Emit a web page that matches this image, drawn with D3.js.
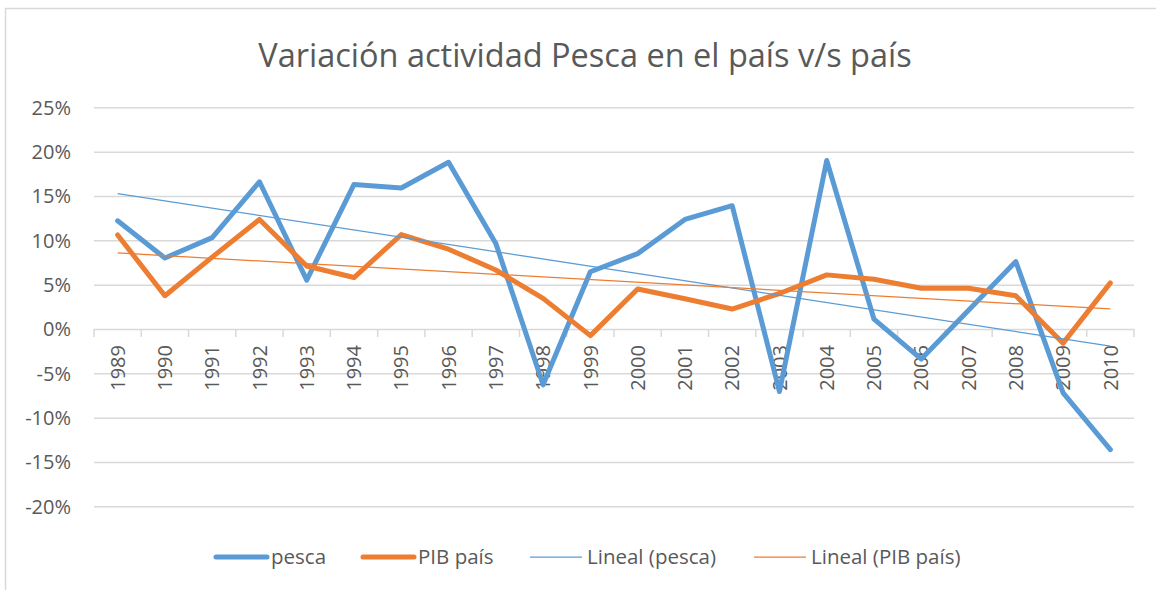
<!DOCTYPE html>
<html>
<head>
<meta charset="utf-8">
<script src="https://cdn.jsdelivr.net/npm/d3@7"></script>
<style>
  body { margin: 0; background: #fff; }
  text { font-family: "Open Sans", "Noto Sans", sans-serif; fill: #595959; }
</style>
</head>
<body>
<div id="chart"></div>
<script>

var years = ["1989", "1990", "1991", "1992", "1993", "1994", "1995", "1996", "1997", "1998", "1999",
             "2000", "2001", "2002", "2003", "2004", "2005", "2006", "2007", "2008", "2009", "2010"]

var pesca = [12.2, 8.0, 10.3, 16.6, 5.5, 16.3, 15.9, 18.8, 9.65, -6.3, 6.45,
             8.5, 12.35, 13.9, -7.06, 19.0, 1.1, -3.4, 2.1, 7.6, -7.2, -13.6]

var pibPais = [10.6, 3.75, 8.1, 12.35, 7.1, 5.8, 10.65, 9.0, 6.65, 3.45, -0.75,
               4.5, 3.4, 2.25, 4.0, 6.1, 5.6, 4.6, 4.6, 3.75, -1.6, 5.2]

var yTicks = [-20, -15, -10, -5, 0, 5, 10, 15, 20, 25]

var seriesNames = ["pesca", "PIB país", "Lineal (pesca)", "Lineal (PIB país)"]

var blue = "#5B9BD5",
    orange = "#ED7D31",
    gridColor = "#d9d9d9"

var width = 1156,
    height = 590

var svg = d3.select("#chart").append("svg")
    .attr("width", width)
    .attr("height", height)

// chart frame (only left + top edges are inside the picture)
svg.append("rect")
    .attr("x", 5.5)
    .attr("y", 8.5)
    .attr("width", 1160)
    .attr("height", 600)
    .style("fill", "#fff")
    .style("stroke", gridColor)
    .style("stroke-width", 1.5)

var x = d3.scaleBand()
    .domain(years)
    .range([94, 1134])

var y = d3.scaleLinear()
    .domain([-20, 25])
    .range([506.3, 107.3])

// title
svg.append("text")
    .attr("x", 585)
    .attr("y", 67)
    .style("text-anchor", "middle")
    .style("font-size", "32.5px")
    .text("Variación actividad Pesca en el país v/s país")

// gridlines
svg.append("g").selectAll(".grid")
    .data(yTicks)
    .enter().append("line")
      .attr("x1", x.range()[0])
      .attr("x2", x.range()[1])
      .attr("y1", function(d) { return y(d) + 0.5; })
      .attr("y2", function(d) { return y(d) + 0.5; })
      .style("stroke", gridColor)
      .style("stroke-width", 1.5)

// y labels
svg.append("g").selectAll(".yLabel")
    .data(yTicks)
    .enter().append("text")
      .attr("x", 71)
      .attr("y", function(d) { return y(d); })
      .attr("dy", "0.36em")
      .style("text-anchor", "end")
      .style("font-size", "20px")
      .text(function(d) { return d + "%"; })

// category tick marks on the 0% line
var bounds = years.map(function(d) { return x(d); }).concat([x.range()[1]])
svg.append("g").selectAll(".tick")
    .data(bounds)
    .enter().append("line")
      .attr("x1", function(d) { return d; })
      .attr("x2", function(d) { return d; })
      .attr("y1", y(0))
      .attr("y2", y(0) + 8)
      .style("stroke", gridColor)
      .style("stroke-width", 1.5)

// year labels (rotated)
svg.append("g").selectAll(".xLabel")
    .data(years)
    .enter().append("text")
      .attr("transform", function(d) {
        return "translate(" + (x(d) + x.bandwidth() / 2) + "," + 345 + ") rotate(-90)";
      })
      .attr("dy", "0.36em")
      .style("text-anchor", "end")
      .style("font-size", "20px")
      .text(function(d) { return d; })

function cx(i) { return x(years[i]) + x.bandwidth() / 2; }

var line = d3.line()
    .x(function(d, i) { return cx(i); })
    .y(function(d) { return y(d); })

// least squares trend, same as excel's "Lineal"
function trend(values) {
  var n = values.length,
      mx = d3.mean(values, function(d, i) { return i; }),
      my = d3.mean(values),
      sxy = d3.sum(values, function(d, i) { return (i - mx) * (d - my); }),
      sxx = d3.sum(values, function(d, i) { return (i - mx) * (i - mx); }),
      b = sxy / sxx,
      a = my - b * mx
  return [[0, a], [n - 1, a + b * (n - 1)]]
}

var trendLine = d3.line()
    .x(function(d) { return cx(d[0]); })
    .y(function(d) { return y(d[1]); })

svg.append("path")
    .datum(pesca)
    .attr("d", line)
    .style("fill", "none")
    .style("stroke", blue)
    .style("stroke-width", 5)
    .style("stroke-linejoin", "round")
    .style("stroke-linecap", "round")

svg.append("path")
    .datum(pibPais)
    .attr("d", line)
    .style("fill", "none")
    .style("stroke", orange)
    .style("stroke-width", 5)
    .style("stroke-linejoin", "round")
    .style("stroke-linecap", "round")

svg.append("path")
    .datum(trend(pesca))
    .attr("d", trendLine)
    .style("fill", "none")
    .style("stroke", blue)
    .style("stroke-width", 1.25)

svg.append("path")
    .datum(trend(pibPais))
    .attr("d", trendLine)
    .style("fill", "none")
    .style("stroke", orange)
    .style("stroke-width", 1.25)

// legend
var legendItems = [
  { name: seriesNames[0], color: blue, w: 5, x: 214 },
  { name: seriesNames[1], color: orange, w: 5, x: 361 },
  { name: seriesNames[2], color: blue, w: 1.25, x: 530 },
  { name: seriesNames[3], color: orange, w: 1.25, x: 754 }
]

var legend = svg.append("g").selectAll(".legend")
    .data(legendItems)
    .enter().append("g")
      .attr("transform", function(d) { return "translate(" + d.x + ",557)"; })

legend.append("line")
    .attr("x1", function(d) { return d.w > 2 ? 2 : 0; })
    .attr("x2", function(d) { return d.w > 2 ? 53 : 52; })
    .style("stroke", function(d) { return d.color; })
    .style("stroke-width", function(d) { return d.w; })
    .style("stroke-linecap", function(d) { return d.w > 2 ? "round" : "butt"; })

legend.append("text")
    .attr("x", 57)
    .attr("dy", "0.36em")
    .style("font-size", "20.5px")
    .text(function(d) { return d.name; })

</script>
</body>
</html>
